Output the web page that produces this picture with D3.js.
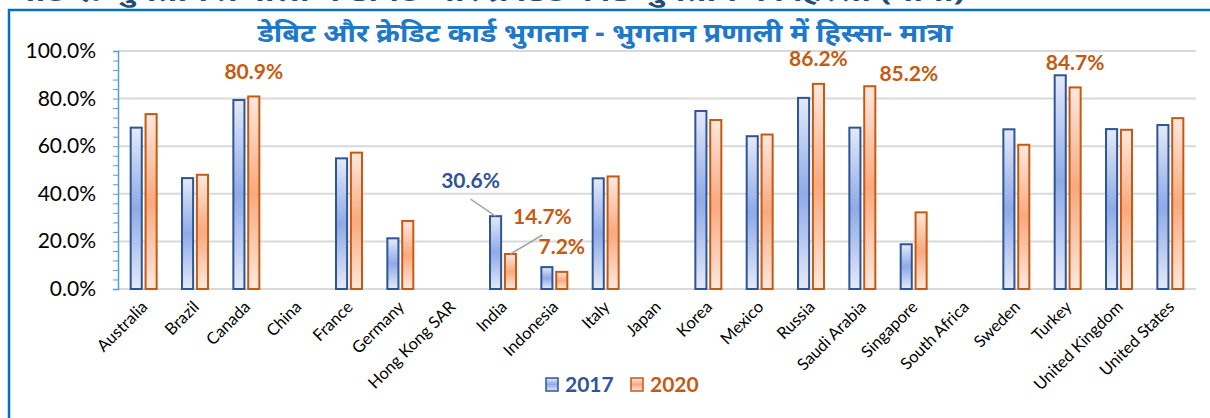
<!DOCTYPE html>
<html>
<head>
<meta charset="utf-8">
<script src="https://cdn.jsdelivr.net/npm/d3@7"></script>
<style>
  body { margin: 0; background: #fff; }
  svg { display: block; }
</style>
</head>
<body>
<svg id="chart" width="1210" height="418"></svg>
<script>
// card payments share, 2017 vs 2020
const countries = ['Australia', 'Brazil', 'Canada', 'China', 'France', 'Germany', 'Hong Kong SAR',
    'India', 'Indonesia', 'Italy', 'Japan', 'Korea', 'Mexico', 'Russia', 'Saudi Arabia',
    'Singapore', 'South Africa', 'Sweden', 'Turkey', 'United Kingdom', 'United States'];
const years = ['2017', '2020'];
const values2017 = [67.8, 46.6, 79.4, null, 54.9, 21.3, null, 30.6, 9.2, 46.5, null,
    74.8, 64.2, 80.3, 67.8, 18.8, null, 67.1, 89.8, 67.2, 68.9];
const values2020 = [73.5, 48.0, 80.9, null, 57.3, 28.6, null, 14.7, 7.2, 47.3, null,
    71.0, 64.9, 86.2, 85.2, 32.2, null, 60.6, 84.7, 66.9, 71.8];
const yTicks = [0, 20, 40, 60, 80, 100];
const labelled = [['Canada', '2020'], ['Russia', '2020'], ['Saudi Arabia', '2020'], ['Turkey', '2020'],
    ['India', '2017'], ['India', '2020'], ['Indonesia', '2020']];
const title = 'डेबिट और क्रेडिट कार्ड भुगतान - भुगतान प्रणाली में हिस्सा- मात्रा';
const topCaption = 'चार्ट ९: भुगतान प्रणाली में डेबिट और क्रेडिट कार्ड भुगतान का हिस्सा (मात्रा)';

const colors = {
    '2017': { stroke: '#2F5597', light: '#E4EAF8', mid: '#8FAAE6' },
    '2020': { stroke: '#C55A11', light: '#FEE8DF', mid: '#F8A97F' }
};

function drawChart() {
    const svg = d3.select('#chart');
    svg.selectAll('*').remove();

    const left = 118, right = 1196, top = 51, bottom = 289;
    const font = 'Lato, "Noto Sans", sans-serif';

    const rows = countries.map((c, i) => ({ country: c, '2017': values2017[i], '2020': values2020[i] }));

    const x0 = d3.scaleBand().domain(countries).range([left, right])
        .paddingInner(0.455).paddingOuter(0.2275);
    const x1 = d3.scaleBand().domain(years).range([0, x0.bandwidth()]).paddingInner(0.12);
    const y = d3.scaleLinear().domain([0, 100]).range([bottom, top]);

    // gradients
    const defs = svg.append('defs');
    years.forEach(yr => {
        const g = defs.append('linearGradient').attr('id', 'grad' + yr)
            .attr('x1', 0).attr('y1', 0).attr('x2', 0).attr('y2', 1);
        g.append('stop').attr('offset', '0%').attr('stop-color', colors[yr].light);
        g.append('stop').attr('offset', '50%').attr('stop-color', colors[yr].mid);
        g.append('stop').attr('offset', '100%').attr('stop-color', colors[yr].light);
    });

    // cut-off caption from the page above
    svg.append('text').attr('x', 12).attr('y', 1)
        .attr('font-family', '"Noto Sans", sans-serif').attr('font-weight', 'bold')
        .attr('font-size', 24).attr('fill', '#1F4E79')
        .attr('textLength', 953).attr('lengthAdjust', 'spacingAndGlyphs')
        .text(topCaption);

    // frame
    svg.append('path').attr('d', 'M9,418 V10 H1210')
        .attr('fill', 'none').attr('stroke', '#0070C0').attr('stroke-width', 2.5);

    // title
    svg.append('text').attr('x', 605).attr('y', 42).attr('text-anchor', 'middle')
        .attr('font-family', '"Noto Sans", sans-serif').attr('font-weight', 'bold')
        .attr('font-size', 26).attr('fill', '#1F78C8')
        .attr('textLength', 695).attr('lengthAdjust', 'spacingAndGlyphs')
        .text(title);

    // gridlines
    svg.append('g').selectAll('line').data(yTicks).enter().append('line')
        .attr('x1', left).attr('x2', right)
        .attr('y1', d => y(d)).attr('y2', d => y(d))
        .attr('stroke', '#D9D9D9').attr('stroke-width', 2);

    // y axis
    const yAxis = svg.append('g').attr('transform', `translate(${left},0)`)
        .call(d3.axisLeft(y).tickValues(d3.range(0, 101, 4)).tickSize(5).tickFormat(''));
    yAxis.select('.domain').attr('stroke', '#5B9BD5').attr('stroke-width', 1.5);
    yAxis.selectAll('.tick line').attr('stroke', '#5B9BD5');

    svg.append('g').selectAll('text').data(yTicks).enter().append('text')
        .attr('x', 96).attr('y', d => y(d) + 7).attr('text-anchor', 'end')
        .attr('font-family', font).attr('font-size', 21).attr('fill', '#000')
        .text(d => d.toFixed(1) + '%');

    // bars
    const group = svg.append('g').selectAll('g').data(rows).enter().append('g')
        .attr('transform', d => `translate(${x0(d.country)},0)`);
    group.selectAll('rect')
        .data(d => years.filter(yr => d[yr] != null).map(yr => ({ yr, v: d[yr] })))
        .enter().append('rect')
        .attr('x', d => x1(d.yr) + 1).attr('width', x1.bandwidth() - 2)
        .attr('y', d => y(d.v)).attr('height', d => bottom - y(d.v))
        .attr('fill', d => `url(#grad${d.yr})`)
        .attr('stroke', d => colors[d.yr].stroke).attr('stroke-width', 2);

    // x labels
    svg.append('g').selectAll('text').data(countries).enter().append('text')
        .attr('transform', d => `translate(${x0(d) + x0.bandwidth() / 2 + 5},${bottom + 19}) rotate(-45)`)
        .attr('text-anchor', 'end')
        .attr('font-family', font).attr('font-size', 16.5).attr('fill', '#000')
        .text(d => d);

    // data labels
    const special = {
        'Saudi Arabia 2020': { dx: 39, dy: -5 },
        'India 2017': { dx: -25, dy: -28, lead: true },
        'India 2020': { dx: 32, dy: -30, lead: true }
    };
    labelled.forEach(([c, yr]) => {
        const v = rows.find(r => r.country === c)[yr];
        const cx = x0(c) + x1(yr) + x1.bandwidth() / 2;
        const ty = y(v);
        const s = special[c + ' ' + yr] || { dx: 0, dy: -17.5 };
        if (s.lead) {
            svg.append('line')
                .attr('x1', cx + s.dx).attr('y1', ty + s.dy + 11)
                .attr('x2', cx).attr('y2', ty)
                .attr('stroke', '#A6A6A6').attr('stroke-width', 1.5);
        }
        svg.append('text').attr('x', cx + s.dx).attr('y', ty + s.dy).attr('text-anchor', 'middle')
            .attr('font-family', font).attr('font-weight', 'bold').attr('font-size', 21)
            .attr('fill', colors[yr].stroke)
            .text(v.toFixed(1) + '%');
    });

    // legend
    const legend = svg.append('g').selectAll('g').data(years).enter().append('g')
        .attr('transform', (d, i) => `translate(${546 + i * 85},378)`);
    legend.append('rect').attr('width', 12).attr('height', 13)
        .attr('fill', d => `url(#grad${d})`)
        .attr('stroke', d => colors[d].stroke).attr('stroke-width', 1.5);
    legend.append('text').attr('x', 19).attr('y', 14)
        .attr('font-family', font).attr('font-weight', 'bold').attr('font-size', 21)
        .attr('fill', d => colors[d].stroke)
        .text(d => d);
}

drawChart();
</script>
</body>
</html>
